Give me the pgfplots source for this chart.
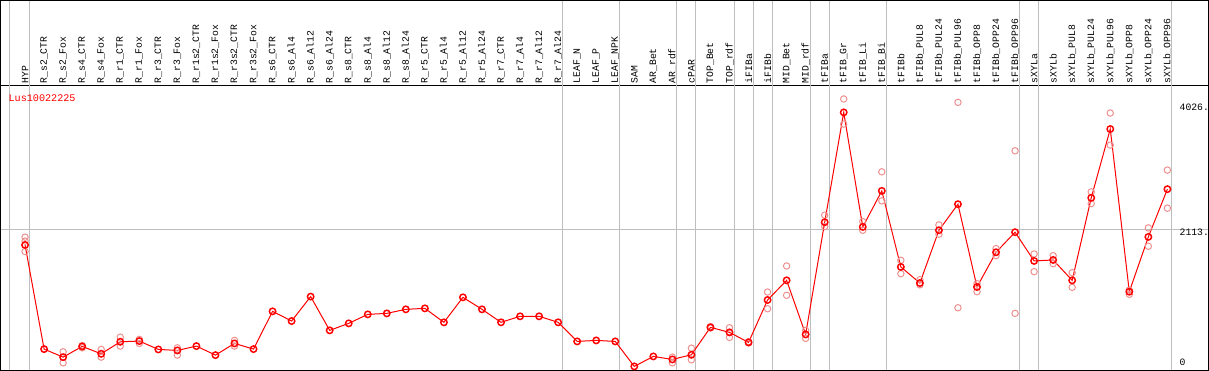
\documentclass[border=0pt]{standalone}
\usepackage{pgfplots}
\pgfplotsset{compat=1.18}
\usepackage{fontspec}
\setmainfont{Liberation Mono}
\definecolor{rep}{HTML}{EE9090}
\definecolor{gridc}{HTML}{BEBEBE}
\pgfplotstableread{
x y
0 1871
1 276
2 153
3 317
4 204
5 388
6 399
7 271
8 256
9 322
10 184
11 363
12 276
13 854
14 706
15 1080
16 563
17 670
18 808
19 823
20 885
21 900
22 686
23 1069
24 885
25 686
26 778
27 778
28 686
29 394
30 409
31 394
32 11
33 164
34 118
35 189
36 609
37 532
38 379
39 1028
40 1329
41 501
42 2219
43 3901
44 2147
45 2699
46 1534
47 1288
48 2096
49 2495
50 1227
51 1759
52 2066
53 1626
54 1641
55 1329
56 2592
57 3646
58 1155
59 1994
60 2725
}\meandata
\pgfplotstableread{
x y
0 1990
0 1930
0 1770
2 235
2 66
3 296
3 330
4 271
4 153
5 460
5 322
6 425
6 363
8 296
8 184
11 409
11 322
34 153
34 66
35 291
35 112
36 600
36 620
37 603
37 455
38 390
38 370
39 1150
39 894
40 1549
40 1100
41 563
41 440
42 2326
42 2152
43 4106
43 3722
44 2229
44 2096
45 2991
45 2546
46 1636
46 1431
47 1339
47 1260
48 2178
48 2035
49 4054
49 909
50 1278
50 1155
51 1815
51 1707
52 3313
52 823
53 1733
53 1462
54 1707
54 1584
55 1446
55 1222
56 2684
56 2505
57 3891
57 3400
58 1115
58 1180
59 2132
59 1851
60 3017
60 2434
}\repdata
\begin{document}
\begin{tikzpicture}
\begin{axis}[
  width=904.5pt, height=213pt, scale only axis,
  xmin=-1.29, xmax=62.16, ymin=-46, ymax=4310,
  axis line style={line width=0.75pt},
  xtick={0,...,60},
  xticklabels={HYP,R\_s2\_CTR,R\_s2\_Fox,R\_s4\_CTR,R\_s4\_Fox,R\_r1\_CTR,R\_r1\_Fox,R\_r3\_CTR,R\_r3\_Fox,R\_r1s2\_CTR,R\_r1s2\_Fox,R\_r3s2\_CTR,R\_r3s2\_Fox,R\_s6\_CTR,R\_s6\_Al4,R\_s6\_Al12,R\_s6\_Al24,R\_s8\_CTR,R\_s8\_Al4,R\_s8\_Al12,R\_s8\_Al24,R\_r5\_CTR,R\_r5\_Al4,R\_r5\_Al12,R\_r5\_Al24,R\_r7\_CTR,R\_r7\_Al4,R\_r7\_Al12,R\_r7\_Al24,LEAF\_N,LEAF\_P,LEAF\_NPK,SAM,AR\_Bet,AR\_rdf,cPAR,TOP\_Bet,TOP\_rdf,iFIBa,iFIBb,MID\_Bet,MID\_rdf,tFIBa,tFIB\_Gr,tFIB\_Li,tFIB\_Bi,tFIBb,tFIBb\_PUL8,tFIBb\_PUL24,tFIBb\_PUL96,tFIBb\_OPP8,tFIBb\_OPP24,tFIBb\_OPP96,sXYLa,sXYLb,sXYLb\_PUL8,sXYLb\_PUL24,sXYLb\_PUL96,sXYLb\_OPP8,sXYLb\_OPP24,sXYLb\_OPP96},
  xticklabel pos=upper,
  xticklabel style={rotate=90, anchor=west, font=\fontsize{7.3}{8}\selectfont, inner sep=1.5pt},
  major tick length=0pt,
  ytick=\empty,
  clip=false,
]
% grid lines
\draw[gridc, line width=0.75pt] (axis cs:-1.29,2113) -- (axis cs:62.16,2113);
\draw[gridc, line width=0.75pt] (axis cs:-0.8,-46) -- (axis cs:-0.8,5614);
\draw[gridc, line width=0.75pt] (axis cs:0.24,-46) -- (axis cs:0.24,5614);
\draw[gridc, line width=0.75pt] (axis cs:28.24,-46) -- (axis cs:28.24,5614);
\draw[gridc, line width=0.75pt] (axis cs:31.24,-46) -- (axis cs:31.24,5614);
\draw[gridc, line width=0.75pt] (axis cs:34.24,-46) -- (axis cs:34.24,5614);
\draw[gridc, line width=0.75pt] (axis cs:35.24,-46) -- (axis cs:35.24,5614);
\draw[gridc, line width=0.75pt] (axis cs:37.24,-46) -- (axis cs:37.24,5614);
\draw[gridc, line width=0.75pt] (axis cs:38.24,-46) -- (axis cs:38.24,5614);
\draw[gridc, line width=0.75pt] (axis cs:39.24,-46) -- (axis cs:39.24,5614);
\draw[gridc, line width=0.75pt] (axis cs:41.24,-46) -- (axis cs:41.24,5614);
\draw[gridc, line width=0.75pt] (axis cs:42.24,-46) -- (axis cs:42.24,5614);
\draw[gridc, line width=0.75pt] (axis cs:45.24,-46) -- (axis cs:45.24,5614);
\draw[gridc, line width=0.75pt] (axis cs:52.24,-46) -- (axis cs:52.24,5614);
\draw[gridc, line width=0.75pt] (axis cs:53.24,-46) -- (axis cs:53.24,5614);
\draw[gridc, line width=0.75pt] (axis cs:60.24,-46) -- (axis cs:60.24,5614);
% outer frame
\draw[black, line width=0.75pt] (rel axis cs:0,0) rectangle (rel axis cs:1,1.2993);
% replicates
\addplot[only marks, mark=o, mark size=2.4pt, color=rep, mark options={line width=0.75pt}] table[x=x,y=y] {\repdata};
% means
\addplot[red, line width=0.75pt, mark=o, mark size=2.4pt, mark options={line width=1.1pt}] table[x=x,y=y] {\meandata};
% labels
\node[red, anchor=north west, inner sep=0pt, font=\fontsize{7.6}{8}\selectfont] at (axis cs:-0.88,4183) {Lus10022225};
\node[anchor=north west, inner sep=0pt, font=\fontsize{7.3}{8}\selectfont] at (axis cs:60.63,4026) {4026.};
\node[anchor=north west, inner sep=0pt, font=\fontsize{7.3}{8}\selectfont] at (axis cs:60.63,2113) {2113.};
\node[anchor=south west, inner sep=0pt, font=\fontsize{7.3}{8}\selectfont] at (axis cs:60.63,20) {0};
\end{axis}
\end{tikzpicture}
\end{document}
